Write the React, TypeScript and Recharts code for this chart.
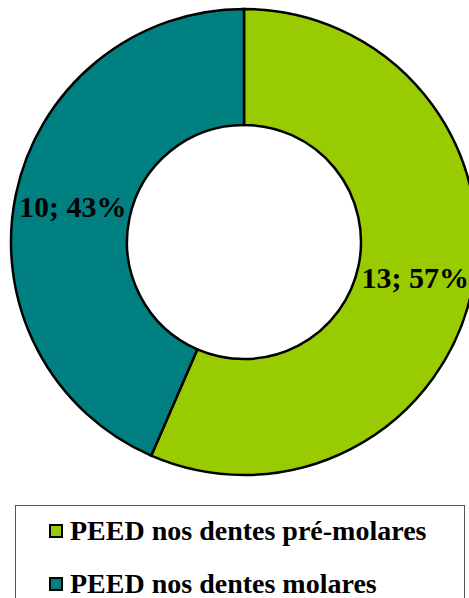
import { Legend, Pie, PieChart, Cell } from "recharts";

const categories = ["PEED nos dentes pré-molares", "PEED nos dentes molares"];
const counts = [13, 10];
const percents = [57, 43];
const colors = ["#99CC00", "#008080"];

const data = categories.map((name, i) => ({
  name,
  value: counts[i],
  pct: percents[i],
}));

const SERIF = "Liberation Serif, Times New Roman, serif";
const RAD = Math.PI / 180;

function renderLabel(props: any) {
  const { cx, cy, midAngle, innerRadius, outerRadius, payload } = props;
  const r = (innerRadius + outerRadius) / 2;
  const x = cx + r * Math.cos(-midAngle * RAD);
  const y = cy + r * Math.sin(-midAngle * RAD);
  return (
    <text
      x={x}
      y={y}
      textAnchor="middle"
      dominantBaseline="central"
      fontFamily={SERIF}
      fontWeight="bold"
      fontSize={30}
      fill="#000"
    >
      {`${payload.value}; ${payload.pct}%`}
    </text>
  );
}

function LegendBox() {
  return (
    <div
      style={{
        position: "absolute",
        left: 15,
        top: 505,
        width: 450,
        height: 120,
        border: "1px solid #555",
        boxSizing: "border-box",
        background: "#fff",
      }}
    >
      {categories.map((name, i) => (
        <div
          key={name}
          style={{
            position: "absolute",
            left: 33,
            top: i === 0 ? 9 : 62,
            display: "flex",
            alignItems: "center",
            whiteSpace: "nowrap",
          }}
        >
          <span
            style={{
              display: "inline-block",
              width: 10,
              height: 10,
              border: "2px solid #000",
              background: colors[i],
              marginRight: 7,
            }}
          />
          <span
            style={{
              fontFamily: SERIF,
              fontWeight: 700,
              fontSize: 28,
              color: "#000",
            }}
          >
            {name}
          </span>
        </div>
      ))}
    </div>
  );
}

export default function App() {
  return (
    <div
      style={{
        position: "relative",
        width: 469,
        height: 598,
        overflow: "hidden",
        fontFamily: SERIF,
      }}
    >
      <style>{"body{margin:0;}"}</style>
      <PieChart width={469} height={598} margin={{ top: 0, right: 0, bottom: 0, left: 0 }}>
        <Pie
          data={data}
          dataKey="value"
          nameKey="name"
          cx={244}
          cy={242}
          innerRadius={117}
          outerRadius={233}
          startAngle={90}
          endAngle={-270}
          stroke="#000"
          strokeWidth={2.5}
          label={renderLabel}
          labelLine={false}
          isAnimationActive={false}
        >
          {data.map((d, i) => (
            <Cell key={d.name} fill={colors[i]} />
          ))}
        </Pie>
        <Legend content={() => <LegendBox />} wrapperStyle={{ left: 0, top: 0 }} />
      </PieChart>
    </div>
  );
}
